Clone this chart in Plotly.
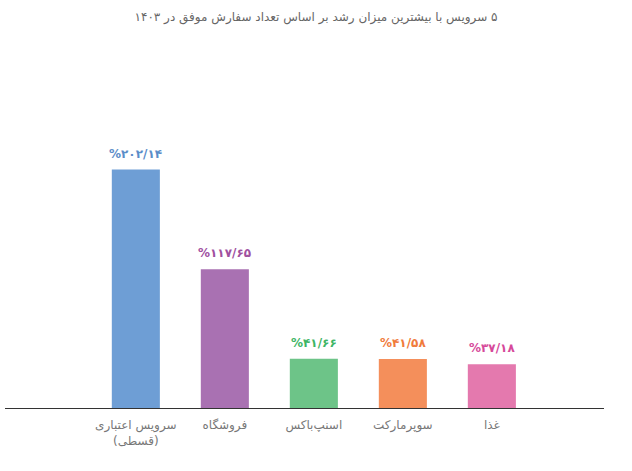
import plotly.graph_objects as go

# Persian labels and growth values (percent)
categories = ["سرویس اعتباری<br>(قسطی)", "فروشگاه", "اسنپ‌باکس", "سوپرمارکت", "غذا"]
growth = [202.14, 117.65, 41.66, 41.58, 37.18]
value_labels = ["%۲۰۲/۱۴", "%۱۱۷/۶۵", "%۴۱/۶۶", "%۴۱/۵۸", "%۳۷/۱۸"]
bar_colors = ["#6e9ed5", "#a971b2", "#6dc488", "#f48f5b", "#e479ae"]
label_colors = ["#5b8dc8", "#a0509f", "#3db565", "#f07b3c", "#d6499a"]

title = "۵ سرویس با بیشترین میزان رشد بر اساس تعداد سفارش موفق در ۱۴۰۳"

fig = go.Figure()
fig.add_trace(
    go.Bar(
        x=categories,
        y=growth,
        width=0.54,
        marker=dict(color=bar_colors, line=dict(width=0)),
        hoverinfo="skip",
    )
)

# value labels sit a little above each bar
for cat, val, lab, col in zip(categories, growth, value_labels, label_colors):
    fig.add_annotation(
        x=cat,
        y=val,
        text=f"<b>{lab}</b>",
        showarrow=False,
        yanchor="bottom",
        yshift=7,
        font=dict(size=12, color=col, family="DejaVu Sans"),
    )

fig.update_layout(
    width=632,
    height=471,
    margin=dict(l=5, r=28, t=40, b=63),
    paper_bgcolor="white",
    plot_bgcolor="white",
    showlegend=False,
    title=dict(
        text="\u202b" + title + "\u202c",
        x=0.5,
        xanchor="center",
        y=0.965,
        yanchor="middle",
        font=dict(size=12, color="#666666", family="DejaVu Sans"),
    ),
    font=dict(family="DejaVu Sans"),
)
fig.update_xaxes(
    range=[-1.47, 5.26],
    showline=True,
    linecolor="#333333",
    linewidth=1,
    showgrid=False,
    ticks="",
    ticklabelstandoff=6,
    tickfont=dict(size=12, color="#777777"),
    fixedrange=True,
)
fig.update_yaxes(
    range=[0, 312],
    visible=False,
    showgrid=False,
    zeroline=False,
    fixedrange=True,
)

fig.write_html(
    "out.html",
    config={"displayModeBar": False},
    post_script="document.body.style.margin='0';",
)
